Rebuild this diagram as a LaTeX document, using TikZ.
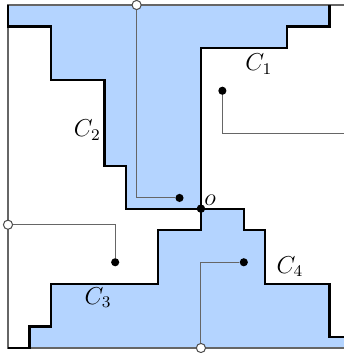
\documentclass[tikz,border=0pt]{standalone}
\usetikzlibrary{calc}
\definecolor{regionblue}{RGB}{180,212,255}

\begin{document}
\begin{tikzpicture}[x=0.37cm, y=0.37cm,
  wall/.style={black, line width=1.1pt, line join=miter},
  wire/.style={black!60, line width=0.5pt},
  dot/.style={circle, fill=black, inner sep=0pt, minimum size=4pt},
  port/.style={circle, draw=black!70, fill=white, line width=0.5pt, inner sep=0pt, minimum size=4.5pt},
  tag/.style={font=\large}]
  \useasboundingbox (-0.373,-0.233) rectangle (15.67,16.233);
  % Regions
  \fill[regionblue] (0,16) -- (0,15) -- (2,15) -- (2,12.5) -- (4.5,12.5) -- (4.5,8.5) -- (5.5,8.5) -- (5.5,6.5)
    -- (9,6.5) -- (9,14) -- (13,14) -- (13,15) -- (15,15) -- (15,16) -- cycle;
  \fill[regionblue] (9,6.5) -- (9,5.5) -- (7,5.5) -- (7,3) -- (2,3) -- (2,1) -- (1,1) -- (1,0)
    -- (16,0) -- (16,0.5) -- (15,0.5) -- (15,3) -- (12,3) -- (12,5.5) -- (11,5.5) -- (11,6.5) -- cycle;
  % Frame
  \draw[wire] (0,0) rectangle (16,16);
  % Points
  \node[dot] (o) at (9,6.5) {};
  \node[dot] (p1) at (8,7) {};
  \node[dot] (p2) at (10,12) {};
  \node[dot] (p3) at (5,4) {};
  \node[dot] (p4) at (11,4) {};
  \node[port] (top) at (6,16) {};
  \node[port] (left) at (0,5.75) {};
  \node[port] (bottom) at (9,0) {};
  \coordinate (right) at (16,10);
  % Connectors
  \draw[wire] (top) |- (p1);
  \draw[wire] (p2) |- (right);
  \draw[wire] (left) -| (p3);
  \draw[wire] (p4) -| (bottom);
  % Contours
  \draw[wall] (0,16) -- (0,15) -- (2,15) -- (2,12.5) -- (4.5,12.5) -- (4.5,8.5) -- (5.5,8.5) -- (5.5,6.5) -- (o.center);
  \draw[wall] (o.center) -- (9,14) -- (13,14) -- (13,15) -- (15,15) -- (15,16);
  \draw[wall] (o.center) -- (9,5.5) -- (7,5.5) -- (7,3) -- (2,3) -- (2,1) -- (1,1) -- (1,0) -- (0,0);
  \draw[wall] (o.center) -- (11,6.5) -- (11,5.5) -- (12,5.5) -- (12,3) -- (15,3) -- (15,0.5) -- (16,0.5);
  \node[dot] at (o) {};
  % Labels
  \node[tag, anchor=south west, inner sep=1.5pt] (olabel) at (o) {$o$};
  \node[tag] (c1) at (11.7,13.25) {$C_1$};
  \node[tag] (c2) at (3.7,10.15) {$C_2$};
  \node[tag] (c3) at (4.2,2.35) {$C_3$};
  \node[tag] (c4) at (13.15,3.8) {$C_4$};
\end{tikzpicture}
\end{document}
